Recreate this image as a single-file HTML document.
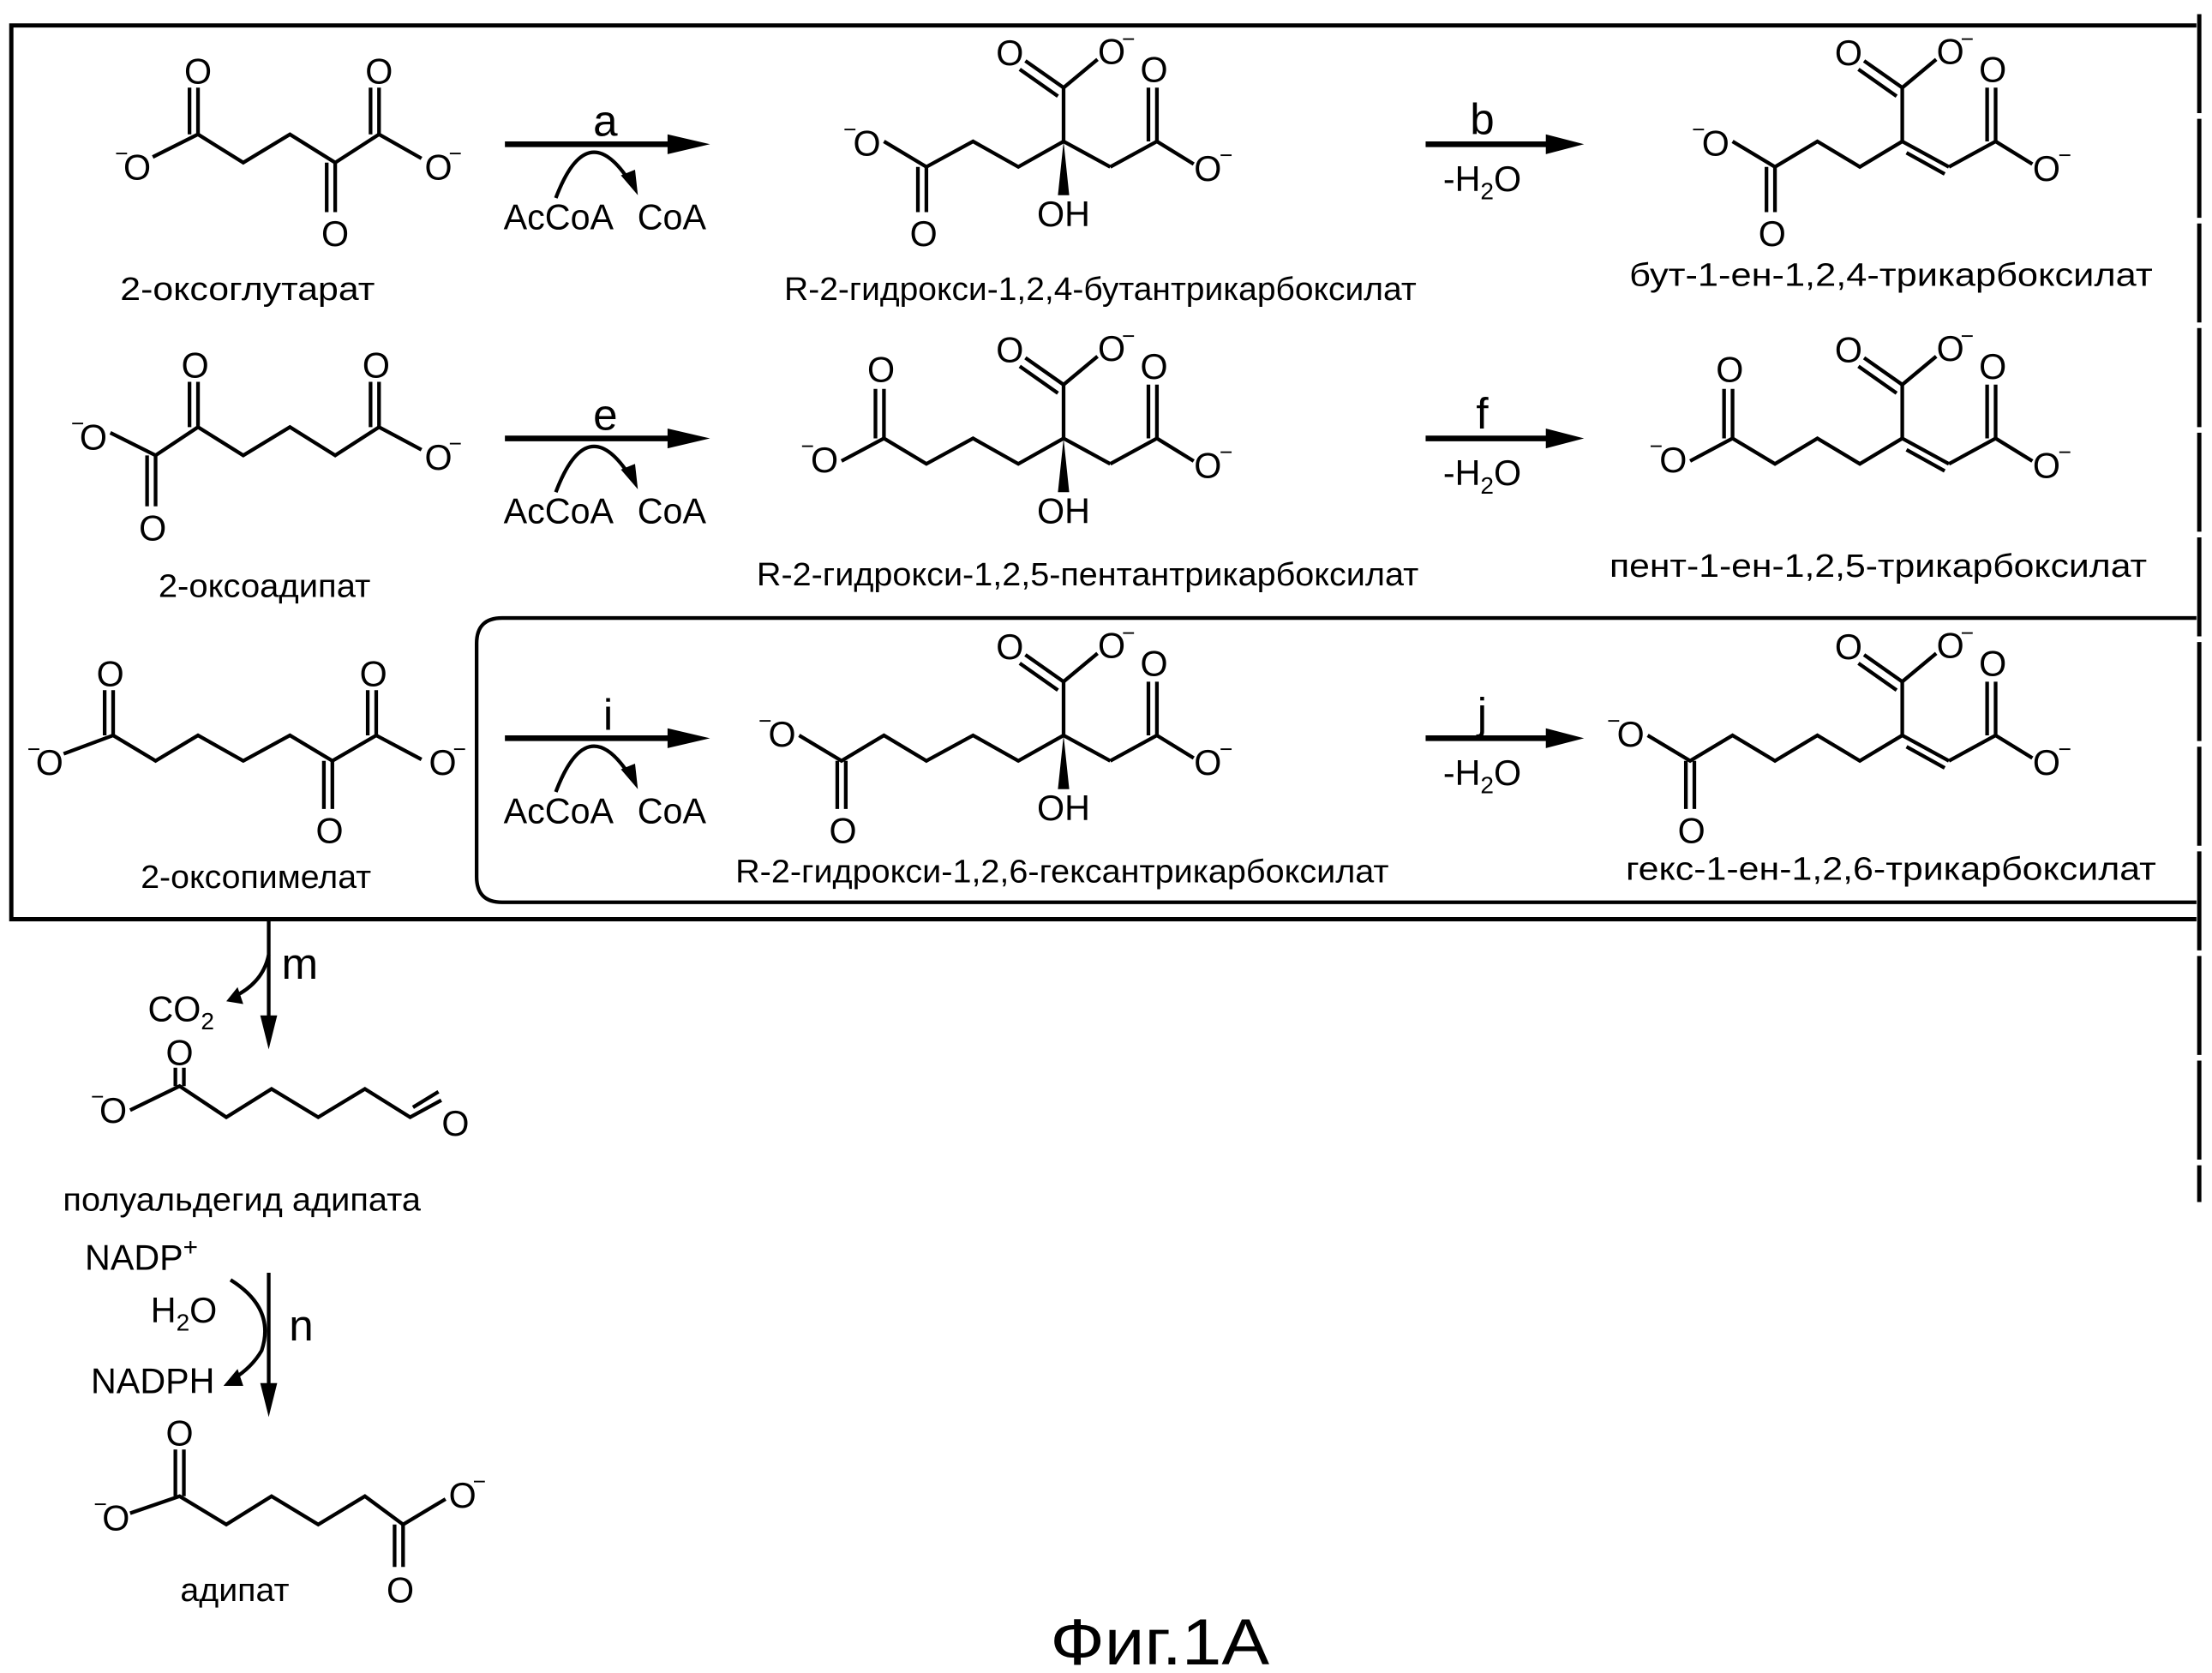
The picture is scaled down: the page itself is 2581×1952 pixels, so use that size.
<!DOCTYPE html>
<html><head><meta charset="utf-8"><style>
html,body{margin:0;padding:0;background:#fff;}
svg{display:block;}
text{font-family:"Liberation Sans Narrow","Liberation Sans",sans-serif;fill:#000;}
.a{font-size:25px;text-anchor:middle;}
.m{font-size:16px;text-anchor:middle;}
.l{font-size:23px;text-anchor:middle;}
.r{font-size:31px;text-anchor:middle;}
</style></head><body>
<svg width="2581" height="1952" viewBox="0 0 1564 1183" preserveAspectRatio="none" xmlns="http://www.w3.org/2000/svg">
<defs>
<g id="head" stroke="#000" stroke-width="2.6" fill="none">
  <line x1="0" y1="0" x2="0" y2="-38"/>
  <line x1="0" y1="-38" x2="-27" y2="-57"/><line x1="-4" y1="-32" x2="-31" y2="-51"/>
  <line x1="0" y1="-38" x2="24" y2="-58"/>
  <line x1="0" y1="0" x2="33" y2="18"/><line x1="33" y1="18" x2="66" y2="0"/>
  <line x1="66" y1="0" x2="66" y2="-38"/><line x1="60" y1="0" x2="60" y2="-38"/>
  <line x1="66" y1="0" x2="92" y2="16"/>
  <g stroke="none" fill="#000">
   <text class="a" x="-38" y="-54">O</text><text class="a" x="34" y="-55">O</text><text class="m" x="46" y="-67">−</text>
   <text class="a" x="64" y="-42">O</text>
   <text class="a" x="102" y="28">O</text><text class="m" x="115" y="15">−</text>
  </g>
</g>
<g id="oh">
  <polygon points="0,0 -4,38 4,38" fill="#000"/>
  <text class="a" x="0" y="60">OH</text>
</g>
<g id="ene" stroke="#000" stroke-width="2.6">
  <line x1="3" y1="8" x2="30" y2="23"/>
</g>
<g id="arr"><line x1="0" y1="0" x2="118" y2="0" stroke="#000" stroke-width="4"/><polygon points="115,-7 145,0 115,7" fill="#000"/></g>
<g id="arr2"><line x1="0" y1="0" x2="88" y2="0" stroke="#000" stroke-width="4"/><polygon points="85,-7 112,0 85,7" fill="#000"/></g>
<g id="acoa">
  <path d="M40,38 Q62,-20 92,26" stroke="#000" stroke-width="2.6" fill="none"/>
  <polygon points="86,22 98,36 96,18" fill="#000"/>
  <text class="a" x="42" y="60">AcCoA</text><text class="a" x="122" y="60">CoA</text>
</g>
</defs>

<!-- frames -->
<g stroke="#000" fill="none">
 <polyline points="1553,18 8,18 8,650 1553,650" stroke-width="3"/>
 <line x1="1555" y1="10" x2="1555" y2="850" stroke-width="3" stroke-dasharray="70 4"/>
 <path d="M1553,437 L355,437 Q337,437 337,455 L337,620 Q337,638 355,638 L1553,638" stroke-width="2.6"/>
</g>

<g stroke="#000" stroke-width="2.6" fill="none">
<polyline points="108,111 140,95 172,115 205,95 237,115 268,95 298,112"/>
<line x1="140" y1="95" x2="140" y2="62"/><line x1="134" y1="95" x2="134" y2="62"/>
<line x1="237" y1="115" x2="237" y2="150"/><line x1="231" y1="115" x2="231" y2="150"/>
<line x1="268" y1="95" x2="268" y2="62"/><line x1="262" y1="95" x2="262" y2="62"/>
<polyline points="78,306 110,322 140,302 172,322 205,302 237,322 268,302 298,318"/>
<line x1="110" y1="322" x2="110" y2="358"/><line x1="104" y1="322" x2="104" y2="358"/>
<line x1="140" y1="302" x2="140" y2="270"/><line x1="134" y1="302" x2="134" y2="270"/>
<line x1="268" y1="302" x2="268" y2="270"/><line x1="262" y1="302" x2="262" y2="270"/>
<polyline points="45,533 80,520 110,538 140,520 172,538 205,520 235,538 266,520 298,537"/>
<line x1="80" y1="520" x2="80" y2="488"/><line x1="74" y1="520" x2="74" y2="488"/>
<line x1="235" y1="538" x2="235" y2="572"/><line x1="229" y1="538" x2="229" y2="572"/>
<line x1="266" y1="520" x2="266" y2="488"/><line x1="260" y1="520" x2="260" y2="488"/>

<polyline points="625,100 655,118 688,100 720,118 752,100"/>
<line x1="655" y1="118" x2="655" y2="150"/><line x1="649" y1="118" x2="649" y2="150"/>
<polyline points="1225,100 1255,118 1285,100 1315,118 1345,100"/>
<line x1="1255" y1="118" x2="1255" y2="150"/><line x1="1249" y1="118" x2="1249" y2="150"/>
<polyline points="595,326 625,310 655,328 688,310 720,328 752,310"/>
<line x1="625" y1="310" x2="625" y2="275"/><line x1="619" y1="310" x2="619" y2="275"/>
<polyline points="1195,326 1225,310 1255,328 1285,310 1315,328 1345,310"/>
<line x1="1225" y1="310" x2="1225" y2="275"/><line x1="1219" y1="310" x2="1219" y2="275"/>
<polyline points="565,520 595,538 625,520 655,538 688,520 720,538 752,520"/>
<line x1="598" y1="538" x2="598" y2="572"/><line x1="592" y1="538" x2="592" y2="572"/>
<polyline points="1165,520 1195,538 1225,520 1255,538 1285,520 1315,538 1345,520"/>
<line x1="1198" y1="538" x2="1198" y2="572"/><line x1="1192" y1="538" x2="1192" y2="572"/>

<polyline points="92,785 127,768 160,790 192,770 225,790 258,770 290,790 312,778"/>
<line x1="292" y1="783" x2="310" y2="772"/>
<line x1="130" y1="768" x2="130" y2="755"/><line x1="124" y1="768" x2="124" y2="755"/>
<polyline points="92,1070 127,1058 160,1078 192,1058 225,1078 258,1058 285,1078 315,1060"/>
<line x1="285" y1="1078" x2="285" y2="1108"/><line x1="279" y1="1078" x2="279" y2="1108"/>
<line x1="130" y1="1058" x2="130" y2="1025"/><line x1="124" y1="1058" x2="124" y2="1025"/>
</g>

<use href="#head" x="752" y="100"/><use href="#oh" x="752" y="100"/>
<use href="#head" x="1345" y="100"/><use href="#ene" x="1345" y="100"/>
<use href="#head" x="752" y="310"/><use href="#oh" x="752" y="310"/>
<use href="#head" x="1345" y="310"/><use href="#ene" x="1345" y="310"/>
<use href="#head" x="752" y="520"/><use href="#oh" x="752" y="520"/>
<use href="#head" x="1345" y="520"/><use href="#ene" x="1345" y="520"/>

<g>
<text class="a" x="97" y="127">O</text><text class="m" x="86" y="114">−</text>
<text class="a" x="140" y="59">O</text><text class="a" x="237" y="174">O</text><text class="a" x="268" y="59">O</text>
<text class="a" x="310" y="127">O</text><text class="m" x="322" y="114">−</text>
<text class="a" x="66" y="318">O</text><text class="m" x="55" y="305">−</text>
<text class="a" x="108" y="382">O</text><text class="a" x="138" y="267">O</text><text class="a" x="266" y="267">O</text>
<text class="a" x="310" y="332">O</text><text class="m" x="322" y="319">−</text>
<text class="a" x="35" y="548">O</text><text class="m" x="24" y="535">−</text>
<text class="a" x="78" y="485">O</text><text class="a" x="233" y="596">O</text><text class="a" x="264" y="485">O</text>
<text class="a" x="313" y="548">O</text><text class="m" x="325" y="535">−</text>
<text class="a" x="613" y="110">O</text><text class="m" x="601" y="97">−</text>
<text class="a" x="653" y="174">O</text>
<text class="a" x="1213" y="110">O</text><text class="m" x="1201" y="97">−</text>
<text class="a" x="1253" y="174">O</text>
<text class="a" x="583" y="334">O</text><text class="m" x="571" y="321">−</text>
<text class="a" x="623" y="270">O</text>
<text class="a" x="1183" y="334">O</text><text class="m" x="1171" y="321">−</text>
<text class="a" x="1223" y="270">O</text>
<text class="a" x="553" y="528">O</text><text class="m" x="541" y="515">−</text>
<text class="a" x="596" y="596">O</text>
<text class="a" x="1153" y="528">O</text><text class="m" x="1141" y="515">−</text>
<text class="a" x="1196" y="596">O</text>
<text class="a" x="80" y="794">O</text><text class="m" x="69" y="781">−</text>
<text class="a" x="127" y="753">O</text><text class="a" x="322" y="803">O</text>
<text class="a" x="82" y="1082">O</text><text class="m" x="71" y="1069">−</text>
<text class="a" x="127" y="1022">O</text><text class="a" x="283" y="1133">O</text>
<text class="a" x="327" y="1066">O</text><text class="m" x="339" y="1053">−</text>
</g>

<use href="#arr" x="357" y="102"/><use href="#acoa" x="353" y="102"/>
<text class="r" x="428" y="96">a</text>
<use href="#arr" x="357" y="310"/><use href="#acoa" x="353" y="310"/>
<text class="r" x="428" y="304">e</text>
<use href="#arr" x="357" y="522"/><use href="#acoa" x="353" y="522"/>
<text class="r" x="430" y="516">i</text>
<use href="#arr2" x="1008" y="102"/><text class="r" x="1048" y="95">b</text>
<text class="a" x="1048" y="135">-H<tspan font-size="17" dy="6">2</tspan><tspan dy="-6">O</tspan></text>
<use href="#arr2" x="1008" y="310"/><text class="r" x="1048" y="303">f</text>
<text class="a" x="1048" y="343">-H<tspan font-size="17" dy="6">2</tspan><tspan dy="-6">O</tspan></text>
<use href="#arr2" x="1008" y="522"/><text class="r" x="1048" y="515">j</text>
<text class="a" x="1048" y="555">-H<tspan font-size="17" dy="6">2</tspan><tspan dy="-6">O</tspan></text>

<line x1="190" y1="650" x2="190" y2="720" stroke="#000" stroke-width="2.6"/>
<polygon points="184,718 196,718 190,742" fill="#000"/>
<path d="M190,675 Q186,695 165,705" stroke="#000" stroke-width="2.6" fill="none"/>
<polygon points="168,698 160,708 172,710" fill="#000"/>
<text class="r" x="212" y="692">m</text>
<text class="a" x="128" y="722">CO<tspan font-size="17" dy="6">2</tspan></text>

<line x1="190" y1="900" x2="190" y2="980" stroke="#000" stroke-width="2.6"/>
<polygon points="184,978 196,978 190,1002" fill="#000"/>
<path d="M163,905 Q195,925 185,955 Q178,967 165,975" stroke="#000" stroke-width="2.6" fill="none"/>
<polygon points="168,968 158,980 172,980" fill="#000"/>
<text class="r" x="213" y="948">n</text>
<text class="a" x="100" y="898">NADP<tspan font-size="18" dy="-10">+</tspan></text>
<text class="a" x="130" y="935">H<tspan font-size="17" dy="6">2</tspan><tspan dy="-6">O</tspan></text>
<text class="a" x="108" y="985">NADPH</text>

<text class="l" x="175" y="212" textLength="180" lengthAdjust="spacingAndGlyphs">2-оксоглутарат</text>
<text class="l" x="778" y="212" textLength="447" lengthAdjust="spacingAndGlyphs">R-2-гидрокси-1,2,4-бутантрикарбоксилат</text>
<text class="l" x="1337" y="202" textLength="370" lengthAdjust="spacingAndGlyphs">бут-1-ен-1,2,4-трикарбоксилат</text>
<text class="l" x="187" y="422" textLength="150" lengthAdjust="spacingAndGlyphs">2-оксоадипат</text>
<text class="l" x="769" y="414" textLength="468" lengthAdjust="spacingAndGlyphs">R-2-гидрокси-1,2,5-пентантрикарбоксилат</text>
<text class="l" x="1328" y="408" textLength="380" lengthAdjust="spacingAndGlyphs">пент-1-ен-1,2,5-трикарбоксилат</text>
<text class="l" x="181" y="628" textLength="163" lengthAdjust="spacingAndGlyphs">2-оксопимелат</text>
<text class="l" x="751" y="624" textLength="462" lengthAdjust="spacingAndGlyphs">R-2-гидрокси-1,2,6-гексантрикарбоксилат</text>
<text class="l" x="1337" y="622" textLength="375" lengthAdjust="spacingAndGlyphs">гекс-1-ен-1,2,6-трикарбоксилат</text>
<text class="l" x="171" y="856" textLength="253" lengthAdjust="spacingAndGlyphs">полуальдегид адипата</text>
<text class="l" x="166" y="1132" textLength="77" lengthAdjust="spacingAndGlyphs">адипат</text>
<text x="820" y="1177" font-size="46" text-anchor="middle" textLength="155" lengthAdjust="spacingAndGlyphs">Фиг.1А</text>
</svg>
</body></html>
